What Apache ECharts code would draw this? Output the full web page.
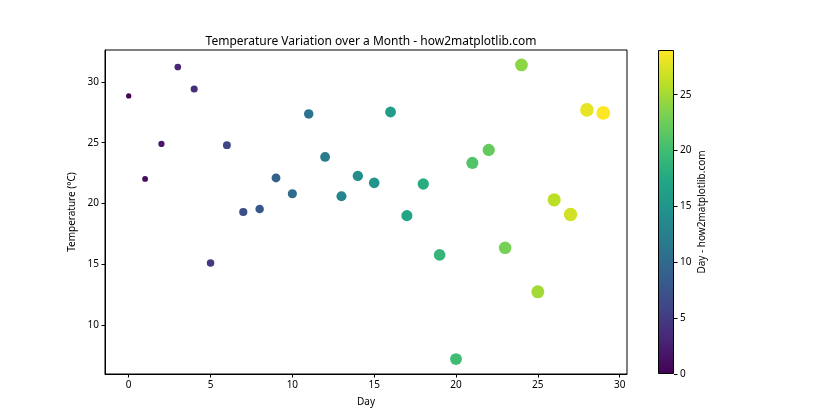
<!DOCTYPE html>
<html>
<head>
<meta charset="utf-8">
<script src="https://cdn.jsdelivr.net/npm/echarts@6/dist/echarts.min.js"></script>
<style>html,body{margin:0;padding:0;background:#fff;}#c{width:840px;height:420px;}</style>
</head>
<body>
<div id="c"></div>
<script>
const days = [0,1,2,3,4,5,6,7,8,9,10,11,12,13,14,15,16,17,18,19,20,21,22,23,24,25,26,27,28,29];
const temps = [28.85,22.02,24.9,31.23,29.42,15.1,24.8,19.3,19.55,22.1,20.8,27.37,23.83,20.6,22.27,21.7,27.53,19.0,21.6,15.77,7.2,23.34,24.4,16.35,31.4,12.73,20.3,19.1,27.7,27.45];
const xTicks = [0,5,10,15,20,25,30];
const yTicks = [10,15,20,25,30];
const cbTicks = [0,5,10,15,20,25];
const viridis = ['#440154','#482475','#414487','#355f8d','#2a788e','#21918c','#22a884','#44bf70','#7ad151','#bddf26','#fde725'];

const font = '"Noto Sans", sans-serif';
const chart = echarts.init(document.getElementById('c'), null, {renderer:'canvas'});
const gradStops = viridis.map((c,i)=>({offset: 1 - i/(viridis.length-1), color: c}));

chart.setOption({
  backgroundColor:'#fff',
  animation:false,
  title:{text:'Temperature Variation over a Month - how2matplotlib.com', left:366, top:31, textAlign:'center',
    textStyle:{fontFamily:font, fontSize:12, fontWeight:'normal', color:'#000'}},
  grid:[
    {left:105, top:50, width:522, height:324, show:true, borderColor:'#000', borderWidth:1, backgroundColor:'transparent'},
    {left:658, top:50, width:16, height:324, show:false}
  ],
  xAxis:[
    {gridIndex:0, type:'value', min:-1.45, max:30.45,
     name:'Day', nameLocation:'middle', nameGap:23, nameTextStyle:{fontFamily:font, fontSize:10, color:'#000'},
     axisLine:{show:true, onZero:false, lineStyle:{color:'#000', width:1}},
     axisTick:{show:true, inside:false, length:3.5, lineStyle:{color:'#000'}, customValues: xTicks},
     axisLabel:{fontFamily:font, fontSize:10, color:'#000', margin:6, customValues: xTicks},
     splitLine:{show:false}},
    {gridIndex:1, type:'category', data:['cb'], show:false}
  ],
  yAxis:[
    {gridIndex:0, type:'value', min:5.97, max:32.63,
     name:'Temperature (°C)', nameLocation:'middle', nameGap:25, nameTextStyle:{fontFamily:font, fontSize:10, color:'#000'},
     axisLine:{show:true, onZero:false, lineStyle:{color:'#000', width:1}},
     axisTick:{show:true, length:3.5, lineStyle:{color:'#000'}, customValues: yTicks},
     axisLabel:{fontFamily:font, fontSize:10, color:'#000', margin:6, customValues: yTicks},
     splitLine:{show:false}},
    {gridIndex:1, type:'value', min:0, max:29, position:'right',
     name:'Day - how2matplotlib.com', nameLocation:'middle', nameGap:23, nameRotate:90,
     nameTextStyle:{fontFamily:font, fontSize:10, color:'#000'},
     axisLine:{show:false},
     axisTick:{show:true, length:3.5, lineStyle:{color:'#000'}, customValues: cbTicks},
     axisLabel:{fontFamily:font, fontSize:10, color:'#000', margin:6, customValues: cbTicks},
     splitLine:{show:false}}
  ],
  visualMap:{show:false, type:'continuous', min:0, max:29, dimension:0, seriesIndex:0, inRange:{color:viridis}},
  series:[
    {type:'scatter', xAxisIndex:0, yAxisIndex:0,
     data: days.map((d,i)=>[d,temps[i]]),
     symbolSize: v => 5.3*Math.sqrt(1+0.2*v[0]),
     itemStyle:{opacity:1}
    },
    {type:'bar', xAxisIndex:1, yAxisIndex:1, data:[29], barWidth:'100%',
     itemStyle:{color:{type:'linear', x:0, y:0, x2:0, y2:1, colorStops:gradStops}, borderColor:'#000', borderWidth:1}}
  ]
});
</script>
</body>
</html>
